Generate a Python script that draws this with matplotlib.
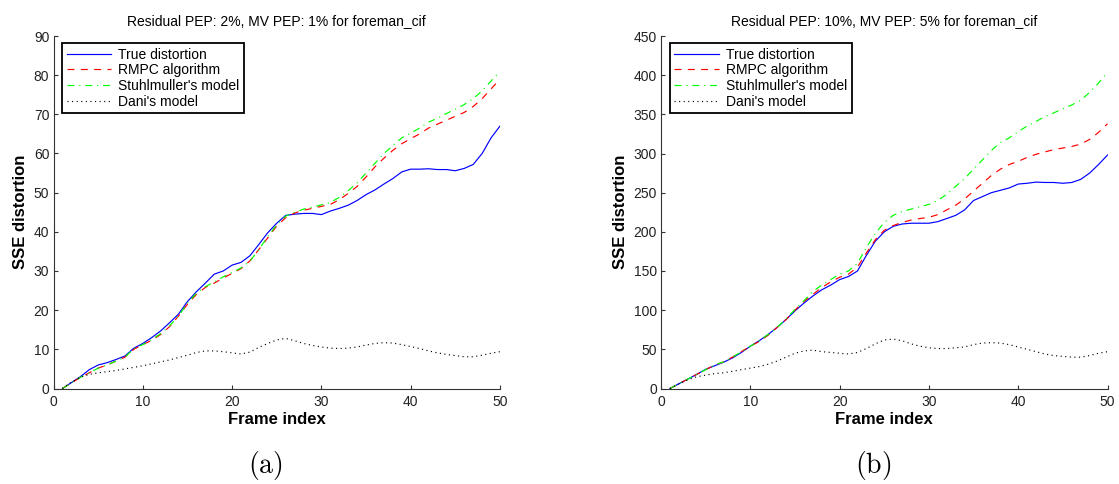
import matplotlib
matplotlib.use("Agg")
import matplotlib.pyplot as plt
import numpy as np

plt.rcParams['font.family'] = ['Liberation Sans', 'DejaVu Sans']
plt.rcParams['mathtext.fontset'] = 'cm'
plt.rcParams['lines.scale_dashes'] = False

frames = list(range(1, 51))

# (a) Residual PEP 2%, MV PEP 1%
true_a = [0, 1.5, 3.0, 4.8, 6.0, 6.6, 7.4, 8.3, 10.3, 11.5, 13.0, 14.7, 16.8, 19.0, 22.2, 24.7,
          26.9, 29.2, 30.0, 31.5, 32.2, 33.9, 36.8, 39.8, 42.2, 44.2, 44.5, 44.7, 44.7, 44.4,
          45.3, 46.0, 46.8, 48.0, 49.5, 50.7, 52.2, 53.6, 55.3, 56.0, 56.0, 56.1, 55.9, 55.9,
          55.6, 56.2, 57.2, 60.0, 64.0, 67.0]
rmpc_a = [0, 1.4, 2.8, 4.0, 5.2, 6.0, 7.0, 8.0, 10.0, 11.2, 12.3, 13.8, 15.8, 18.5, 21.5, 24.0,
          25.8, 26.9, 28.2, 29.4, 30.6, 32.6, 35.5, 38.5, 41.5, 43.6, 44.8, 45.5, 46.0, 46.5,
          47.0, 48.2, 49.8, 51.6, 54.0, 56.6, 58.8, 60.8, 62.5, 63.8, 65.0, 66.5, 67.5, 68.5,
          69.5, 70.5, 72.0, 74.0, 76.5, 79.0]
stuhl_a = [0, 1.4, 2.8, 4.0, 5.2, 6.0, 7.0, 8.0, 10.2, 11.2, 12.5, 14.0, 16.0, 18.5, 21.8, 24.3,
           26.0, 27.2, 28.5, 29.6, 30.8, 32.5, 35.5, 38.8, 41.8, 44.0, 45.0, 45.8, 46.3, 46.9,
           47.5, 48.8, 50.5, 52.5, 55.0, 57.5, 60.0, 62.0, 64.0, 65.2, 66.5, 68.0, 69.0, 70.2,
           71.3, 72.5, 74.0, 76.0, 78.5, 81.0]
dani_a = [0, 1.6, 2.9, 3.6, 4.0, 4.3, 4.6, 5.0, 5.4, 5.8, 6.3, 6.8, 7.3, 7.9, 8.5, 9.2,
          9.6, 9.6, 9.4, 9.1, 8.8, 9.3, 10.5, 11.5, 12.4, 12.8, 12.2, 11.5, 11.0, 10.6,
          10.3, 10.2, 10.3, 10.6, 11.1, 11.5, 11.7, 11.6, 11.2, 10.7, 10.2, 9.6, 9.1, 8.7,
          8.4, 8.1, 8.1, 8.5, 9.0, 9.4]

# (b) Residual PEP 10%, MV PEP 5%
true_b = [0, 6, 12, 18, 24.5, 29, 33.5, 39, 46, 54, 61, 69, 78, 88, 99, 109,
          118, 126, 132, 139, 143, 150, 170, 188, 200, 207, 210, 211, 211, 211,
          213, 217, 221, 228, 240, 245, 250, 253, 256, 261, 262, 263.5, 263, 263,
          262, 263, 267, 275, 286, 298]
rmpc_b = [0, 6, 12, 18, 24, 30, 34, 40, 47, 54, 60, 68, 78, 88, 100, 111,
          120, 129, 136, 142, 146, 155, 173, 190, 202, 208, 212, 215, 217, 218.5,
          222, 228, 234, 242, 252, 262, 272, 280, 286, 290, 295, 299, 302, 305,
          307, 309, 312, 318, 327, 338]
stuhl_b = [0, 6, 12, 18, 24, 30, 34, 40, 47, 54, 61, 69, 78, 89, 101, 112,
           124, 132, 139, 146, 150, 160, 180, 198, 212, 221, 226, 229, 232, 235,
           240, 248, 258, 268, 280, 292, 304, 314, 320, 328, 335, 341, 347, 352,
           357, 362, 368, 378, 390, 404]
dani_b = [0, 6, 11, 15, 17, 19, 20, 22, 24, 26, 28, 31, 35, 40, 45, 48,
          49, 47, 46, 45, 44, 46, 51, 57, 62, 63, 61, 57, 54, 52,
          51, 51, 52, 53, 56, 58, 58.5, 58, 56, 53, 50, 47, 44, 42,
          41, 40, 40, 42, 45, 47]

legend_labels = ["True distortion", "RMPC algorithm", "Stuhlmuller's model", "Dani's model"]
titles = ["Residual PEP: 2%, MV PEP: 1% for foreman_cif",
          "Residual PEP: 10%, MV PEP: 5% for foreman_cif"]
ylims = [(0, 90), (0, 450)]
ysteps = [10, 50]
panel_tags = ["(a)", "(b)"]

styles = [
    dict(color=(0, 0, 1), linestyle='-'),
    dict(color=(1, 0, 0), linestyle=(0, (5.0, 4.6))),
    dict(color=(0, 1, 0), linestyle=(0, (5.0, 3.5, 0.8, 3.5))),
    dict(color=(0, 0, 0), linestyle=(0, (0.8, 2.5))),
]

W, H = 1119, 484
fig = plt.figure(figsize=(W / 100, H / 100), dpi=100)

ax_left_px = [53.5, 661.0]
ax_w_px = 446.5
ax_top_px, ax_bot_px = 36.0, 388.5

datasets = [(true_a, rmpc_a, stuhl_a, dani_a), (true_b, rmpc_b, stuhl_b, dani_b)]
tag_x = [265.7, 873.0]

for i in range(2):
    ax = fig.add_axes([ax_left_px[i] / W, (H - ax_bot_px) / H,
                       ax_w_px / W, (ax_bot_px - ax_top_px) / H])
    handles = []
    for series, st in zip(datasets[i], styles):
        h, = ax.plot(frames, series, lw=0.85, **st)
        handles.append(h)
    ax.set_xlim(0, 50)
    ax.set_ylim(*ylims[i])
    ax.set_xticks(range(0, 51, 10))
    ax.set_yticks(np.arange(ylims[i][0], ylims[i][1] + 1, ysteps[i]))
    for side in ('top', 'right'):
        ax.spines[side].set_visible(False)
    for side in ('left', 'bottom'):
        ax.spines[side].set_linewidth(0.8)
        ax.spines[side].set_color('#333333')
    ax.tick_params(direction='in', length=3, width=0.8, color='#333333',
                   labelsize=10, colors='#222222')
    ax.tick_params(axis='x', pad=5)
    ax.tick_params(axis='y', pad=3)
    ax.set_title(titles[i], fontsize=10, pad=8)
    ax.set_xlabel("Frame index", fontsize=12, fontweight='bold', labelpad=2)
    ax.set_ylabel("SSE distortion", fontsize=12, fontweight='bold', labelpad=4)
    leg = ax.legend(handles, legend_labels, loc='upper left',
                    bbox_to_anchor=(8.5 / ax_w_px, 1 - 6.7 / (ax_bot_px - ax_top_px)),
                    borderaxespad=0, fontsize=10, handlelength=3.2, handletextpad=0.5,
                    labelspacing=0.12, borderpad=0.35, fancybox=False, framealpha=1)
    leg.get_frame().set_edgecolor('black')
    leg.get_frame().set_linewidth(1.3)
    fig.text(tag_x[i] / W, 1 - 465 / H, r'$\mathrm{' + panel_tags[i] + '}$',
             fontsize=20, ha='center', va='center')

fig.savefig("out.png", dpi=100)
